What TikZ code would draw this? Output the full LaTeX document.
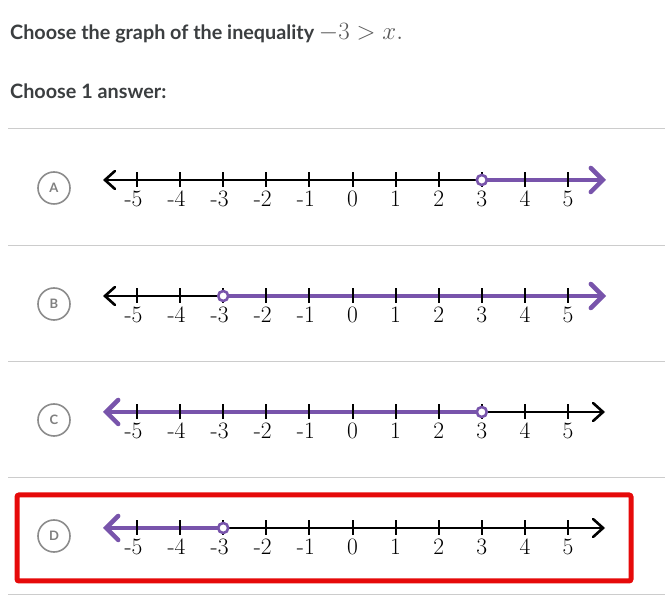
\documentclass[tikz,border=0pt]{standalone}
\usepackage{fontspec}
\newfontfamily\lato{Lato}
\usetikzlibrary{arrows.meta}
\definecolor{kpurple}{RGB}{120,84,171}
\definecolor{ktext}{RGB}{59,62,64}
\definecolor{kred}{RGB}{230,10,10}
\begin{document}
\begin{tikzpicture}[x=1pt,y=-1pt,
  sep/.style={draw=black!20,line width=1pt},
  choice/.style={circle,draw=black!45,line width=1.6pt,minimum size=32pt,inner sep=0pt,text=black!50,font=\lato\bfseries\fontsize{13}{13}\selectfont},
  axis/.style={line width=2.6pt,black},
  hl/.style={line width=4.5pt,kpurple},
  tickmark/.style={line width=2pt,black},
  num/.style={font=\fontsize{23.5}{23.5}\selectfont,anchor=base,inner sep=0pt},
  hole/.style={circle,draw=kpurple,fill=white,line width=2.6pt,minimum size=10pt,inner sep=0pt},
  bhead/.tip={Straight Barb[length=10pt,width=18pt,line cap=round]},
  phead/.tip={Straight Barb[length=12pt,width=24pt,line cap=round]},
  title/.style={anchor=base west,inner sep=0pt,text=ktext,font=\lato\bfseries\fontsize{19.8}{22}\selectfont}
]
\useasboundingbox (0,0) rectangle (665,609);
\fill[white] (0,0) rectangle (665,609);

\node[title] (t1) at (10,40) {Choose the graph of the inequality \textcolor{black!65}{\fontsize{24}{26}\selectfont$-3>x.$}};
\node[title] (t2) at (10,99) {Choose 1 answer:};

\foreach \yy in {129,246,362,478,595} \draw[sep] (8,\yy) -- (665,\yy);

% --- helper: ticks and labels
\newcommand{\ticksrow}[1]{%
  \foreach \k in {-5,...,5} {%
    \draw[tickmark] ({352.5+43.1*\k},{#1-7.5}) -- ++(0,15);
    \ifnum\k<0
      \node[num] at ({352.5+43.1*\k},{#1+27}) {\makebox[0pt][r]{-}\the\numexpr-\k\relax};
    \else
      \node[num] at ({352.5+43.1*\k},{#1+27}) {\k};
    \fi
  }}

% ---- A
\node[choice] (ca) at (54,188) {A};
\coordinate (la) at (103,180); \coordinate (ra) at (606,180); \coordinate (ha) at (481.8,180);
\draw[axis,bhead-] (la) -- (ha);
\draw[hl,-phead] (ha) -- (ra);
\ticksrow{180}
\node[hole] (oa) at (ha) {};

% ---- B
\node[choice] (cb) at (54,304) {B};
\coordinate (lb) at (103,296); \coordinate (rb) at (606,296); \coordinate (hb) at (223.2,296);
\draw[axis,bhead-] (lb) -- (hb);
\draw[hl,-phead] (hb) -- (rb);
\ticksrow{296}
\node[hole] (ob) at (hb) {};

% ---- C
\node[choice] (cc) at (54,420) {C};
\coordinate (lc) at (103,412); \coordinate (rc) at (605,412); \coordinate (hc) at (481.8,412);
\draw[hl,phead-] (lc) -- (hc);
\draw[axis,-bhead] (hc) -- (rc);
\ticksrow{412}
\node[hole] (oc) at (hc) {};

% ---- D
\node[choice] (cd) at (54,536) {D};
\coordinate (ld) at (103,528); \coordinate (rd) at (605,528); \coordinate (hd) at (223.2,528);
\draw[hl,phead-] (ld) -- (hd);
\draw[axis,-bhead] (hd) -- (rd);
\ticksrow{528}
\node[hole] (od) at (hd) {};

% red frame
\draw[kred,line width=5pt,rounded corners=2pt] (17,495) rectangle (631,581);
\end{tikzpicture}
\end{document}
